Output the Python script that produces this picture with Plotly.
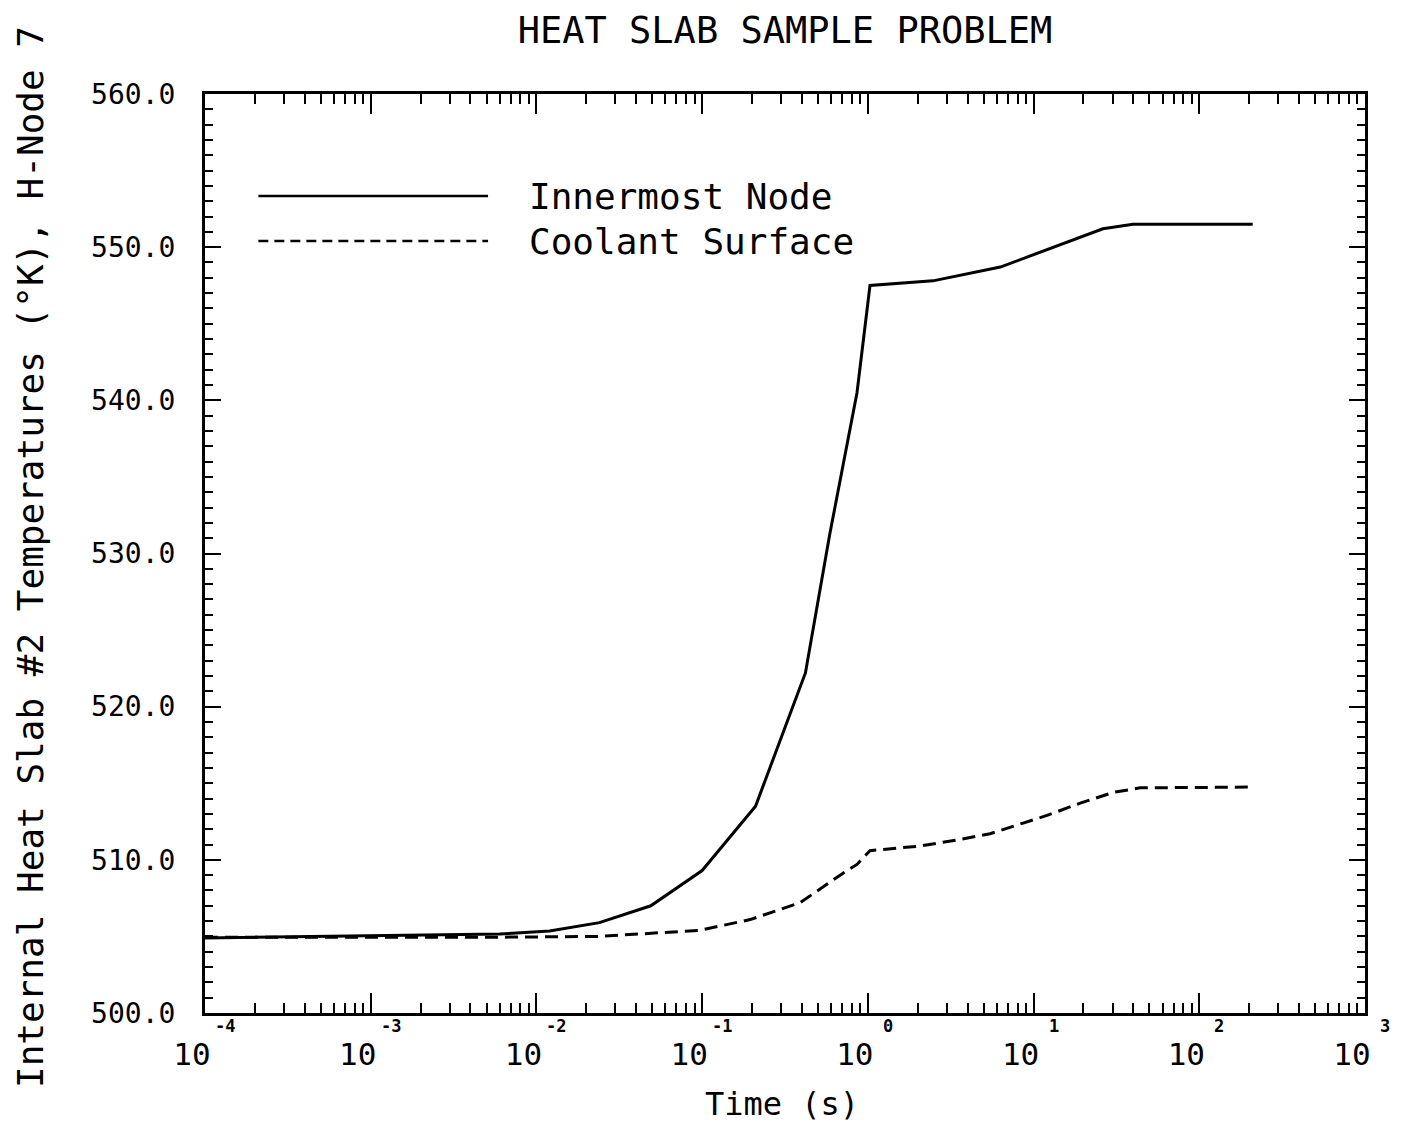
import plotly.graph_objects as go

# Innermost node temperature (K) vs time (s)
t_inner = [1.0e-4, 6.0e-3, 0.012, 0.024, 0.049, 0.10, 0.21, 0.42, 0.59, 0.86,
           1.03, 2.47, 6.3, 26.2, 39.8, 210]
T_inner = [504.9, 505.15, 505.35, 505.9, 507.0, 509.3, 513.5, 522.2, 531.3, 540.5,
           547.5, 547.8, 548.7, 551.2, 551.5, 551.5]

# Coolant surface temperature (K) vs time (s)
t_cool = [1.0e-4, 6.0e-3, 0.024, 0.097, 0.195, 0.39, 0.68, 0.86, 1.03, 2.07,
          3.45, 5.46, 8.65, 12.05, 19.1, 30.2, 44.0, 210]
T_cool = [504.95, 504.95, 505.0, 505.4, 506.1, 507.2, 509.0, 509.7, 510.6, 510.9,
          511.3, 511.7, 512.4, 512.9, 513.7, 514.4, 514.7, 514.75]

decades = [-4, -3, -2, -1, 0, 1, 2, 3]
y_ticks = [500, 510, 520, 530, 540, 550, 560]

FONT = "DejaVu Sans Mono"

fig = go.Figure()

fig.add_trace(go.Scatter(x=t_inner, y=T_inner, mode="lines", name="Innermost Node",
                         line=dict(color="black", width=3)))
fig.add_trace(go.Scatter(x=t_cool, y=T_cool, mode="lines", name="Coolant Surface",
                         line=dict(color="black", width=3, dash="13px,7px")))

minor_x = [m * 10.0 ** k for k in decades[:-1] for m in range(2, 10)]

fig.update_xaxes(
    type="log", range=[-4, 3],
    tickmode="array", tickvals=[10.0 ** k for k in decades], ticktext=["10"] * len(decades),
    ticks="inside", ticklen=20, tickwidth=2, tickcolor="black",
    minor=dict(tickmode="array", tickvals=minor_x, ticks="inside", ticklen=10,
               tickwidth=2, tickcolor="black", showgrid=False),
    showline=True, linecolor="black", linewidth=3, mirror="ticks",
    showgrid=False, zeroline=False,
    tickfont=dict(family=FONT, size=31, color="black"),
    ticklabelstandoff=12, ticklabelshift=-13,
)
fig.update_yaxes(
    range=[500, 560], tickmode="array", tickvals=y_ticks,
    ticktext=[f"{v:.1f}" for v in y_ticks],
    ticks="inside", ticklen=16, tickwidth=2, tickcolor="black",
    minor=dict(dtick=1, ticks="inside", ticklen=8, tickwidth=2, tickcolor="black",
               showgrid=False),
    showline=True, linecolor="black", linewidth=3, mirror="ticks",
    showgrid=False, zeroline=False,
    tickfont=dict(family=FONT, size=28, color="black"),
    ticklabelstandoff=21,
)

# exponents above the "10" tick labels
for k in decades:
    fig.add_annotation(x=k, xref="x", y=0, yref="paper", yanchor="top", yshift=-1,
                       xshift=20, text=f"<b>{k}</b>", showarrow=False,
                       font=dict(family=FONT, size=17, color="black"))

# legend drawn inside the plot
fig.add_shape(type="line", xref="paper", yref="paper", x0=0.046, x1=0.244, y0=0.889, y1=0.889,
              line=dict(color="black", width=2.5))
fig.add_shape(type="line", xref="paper", yref="paper", x0=0.046, x1=0.244, y0=0.840, y1=0.840,
              line=dict(color="black", width=2.5, dash="10px,6px"))
fig.add_annotation(x=0.278, y=0.889, xref="paper", yref="paper", xanchor="left", yanchor="middle",
                   text="Innermost Node", showarrow=False,
                   font=dict(family=FONT, size=36, color="black"))
fig.add_annotation(x=0.278, y=0.840, xref="paper", yref="paper", xanchor="left", yanchor="middle",
                   text="Coolant Surface", showarrow=False,
                   font=dict(family=FONT, size=36, color="black"))

# axis titles
fig.add_annotation(x=-0.151, y=0.496, xref="paper", yref="paper", textangle=-90,
                   xanchor="center", yanchor="middle",
                   text="Internal Heat Slab #2 Temperatures (°K), H-Node 7", showarrow=False,
                   font=dict(family=FONT, size=36, color="black"))
fig.add_annotation(x=0.497, y=-0.099, xref="paper", yref="paper", yanchor="middle",
                   text="Time (s)", showarrow=False,
                   font=dict(family=FONT, size=32, color="black"))

fig.update_layout(
    title=dict(text="HEAT SLAB SAMPLE PROBLEM", x=0.5, xref="paper", xanchor="center",
               y=1 - 22 / 1116, yanchor="middle",
               font=dict(family=FONT, size=37, color="black")),
    width=1388, height=1116,
    margin=dict(l=197, r=31, t=86, b=111),
    plot_bgcolor="white", paper_bgcolor="white",
    showlegend=False,
)

fig.write_html("out.html")
